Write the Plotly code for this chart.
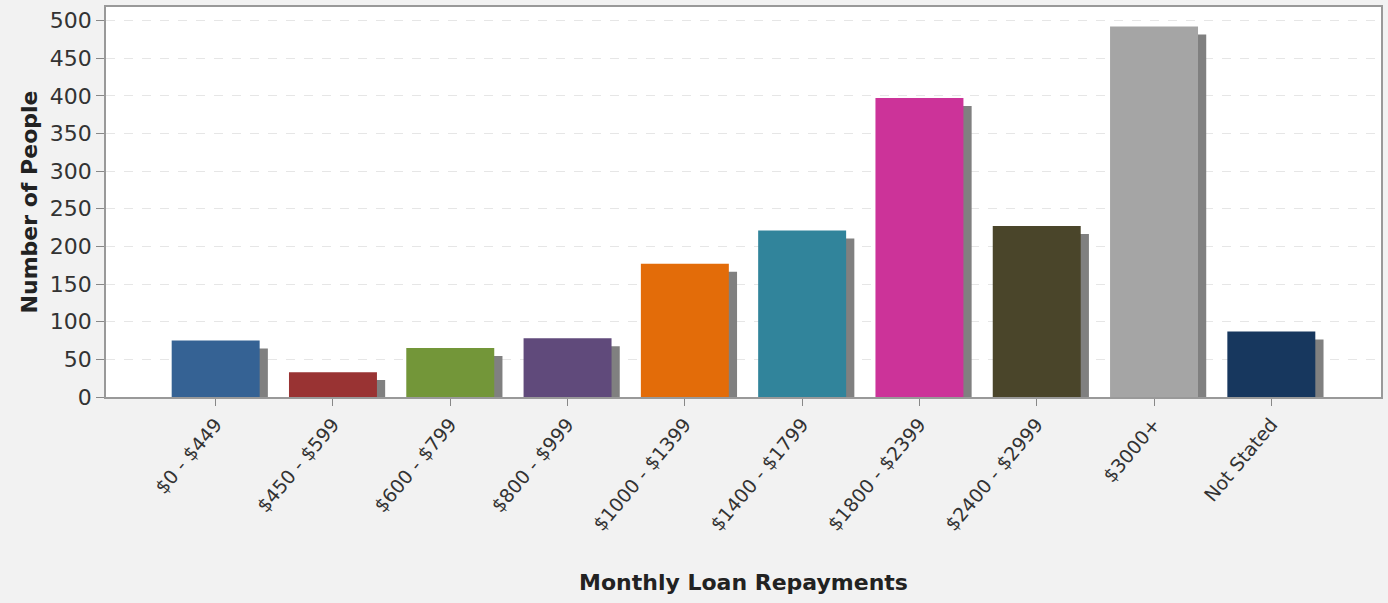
import plotly.graph_objects as go

categories = ["$0 - $449", "$450 - $599", "$600 - $799", "$800 - $999", "$1000 - $1399",
              "$1400 - $1799", "$1800 - $2399", "$2400 - $2999", "$3000+", "Not Stated"]
people = [75, 33, 65, 78, 177, 221, 397, 227, 492, 87]
colors = ["#356294", "#993333", "#739639", "#604a7b", "#e36c09",
          "#31849b", "#cc3399", "#4a452a", "#a5a5a5", "#17375e"]

shadow_drop = 10.5  # shadow offset expressed in data units (about 8px)
shadow_vals = [max(v - shadow_drop, 0) for v in people]

fig = go.Figure()
fig.add_trace(go.Bar(x=categories, y=shadow_vals, marker=dict(color="#808080", line=dict(width=0)),
                     width=0.75, offset=-0.375 + 0.07, hoverinfo="skip", showlegend=False))
fig.add_trace(go.Bar(x=categories, y=people, marker=dict(color=colors, line=dict(width=0)),
                     width=0.75, offset=-0.375, showlegend=False))

fig.update_layout(
    width=1388, height=603,
    margin=dict(l=106, r=7, t=5, b=206),
    paper_bgcolor="#f2f2f2", plot_bgcolor="white",
    barmode="overlay",
    font=dict(family="DejaVu Sans", color="#333333"),
    xaxis=dict(range=[-0.935, 9.935], tickangle=-50, tickfont=dict(size=19, color="#333333"),
               ticks="outside", ticklen=7, tickcolor="#888888",
               showline=True, linecolor="#999999", linewidth=1.5, mirror=True,
               title=dict(text="<b>Monthly Loan Repayments</b>", font=dict(size=22, color="#222222"), standoff=41)),
    yaxis=dict(range=[0, 518], tickvals=list(range(0, 501, 50)),
               tickfont=dict(size=22, color="#333333"),
               ticks="outside", ticklen=8, tickcolor="#888888",
               showline=True, linecolor="#999999", linewidth=1.5, mirror=True,
               showgrid=True, gridcolor="#e6e6e6", griddash="dash", zeroline=False,
               title=dict(text="<b>Number of People</b>", font=dict(size=22, color="#222222"), standoff=6)),
)

fig.write_html("out.html", config={"displayModeBar": False},
               post_script="document.body.style.margin='0';document.body.style.background='#f2f2f2';")
